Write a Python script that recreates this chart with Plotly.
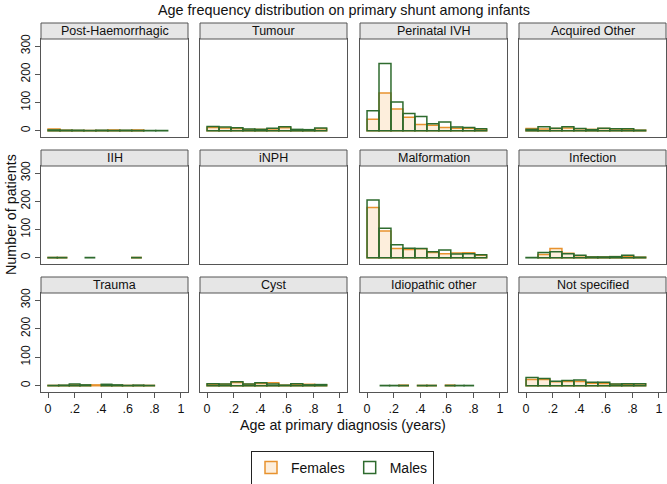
import plotly.graph_objects as go

# ---------------- data ----------------
panel_names = ["Post-Haemorrhagic", "Tumour", "Perinatal IVH", "Acquired Other",
               "IIH", "iNPH", "Malformation", "Infection",
               "Trauma", "Cyst", "Idiopathic other", "Not specified"]

bin_start = [0.0, 0.0, 0.0, 0.0,
             0.0, 0.0, 0.0, 0.0,
             0.0, 0.0, 0.10, 0.0]
bin_width = [0.09, 0.09, 0.09, 0.09,
             0.07, 0.09, 0.09, 0.09,
             0.08, 0.09, 0.07, 0.09]

female_counts = [
    [6, 2, 1, 1, 1, 3, 1, 3, 0, 0],          # Post-Haemorrhagic
    [12, 10, 8, 4, 5, 6, 11, 3, 3, 7],       # Tumour
    [41, 134, 77, 48, 22, 20, 12, 9, 9, 4],  # Perinatal IVH
    [8, 6, 8, 10, 7, 5, 8, 6, 5, 2],         # Acquired Other
    [1, 1, 0, 0, 0, 0, 0, 0, 0, 1],          # IIH
    [0, 0, 0, 0, 0, 0, 0, 0, 0, 0],          # iNPH
    [178, 95, 33, 29, 32, 19, 14, 17, 18, 9],# Malformation
    [0, 12, 33, 16, 7, 3, 3, 4, 5, 2],       # Infection
    [1, 1, 3, 2, 3, 2, 1, 1, 1, 1],          # Trauma
    [5, 5, 11, 5, 8, 10, 2, 5, 5, 3],        # Cyst
    [0, 0, 2, 0, 1, 1, 0, 2, 0, 0],          # Idiopathic other
    [22, 22, 14, 15, 15, 9, 8, 5, 5, 6],     # Not specified
]
male_counts = [
    [3, 2, 2, 1, 2, 1, 2, 1, 1, 1],          # Post-Haemorrhagic
    [15, 13, 11, 6, 5, 9, 14, 5, 4, 10],     # Tumour
    [71, 238, 102, 61, 51, 25, 31, 13, 12, 7],# Perinatal IVH
    [5, 14, 9, 14, 8, 4, 9, 7, 7, 2],        # Acquired Other
    [1, 1, 0, 0, 1, 0, 0, 0, 0, 1],          # IIH
    [0, 0, 0, 0, 0, 0, 0, 0, 0, 0],          # iNPH
    [205, 105, 46, 34, 33, 21, 28, 13, 14, 11],# Malformation
    [1, 19, 21, 14, 9, 3, 3, 4, 9, 2],       # Infection
    [1, 2, 6, 3, 0, 5, 3, 1, 2, 1],          # Trauma
    [7, 6, 14, 6, 10, 6, 2, 7, 3, 4],        # Cyst
    [1, 1, 1, 0, 1, 1, 0, 1, 1, 1],          # Idiopathic other
    [29, 25, 16, 18, 20, 12, 12, 6, 7, 7],   # Not specified
]

x_tick_vals = [0, 0.2, 0.4, 0.6, 0.8, 1]
x_tick_text = ["0", ".2", ".4", ".6", ".8", "1"]
y_tick_vals = [0, 100, 200, 300]
y_tick_text = ["0", "100", "200", "300"]

# ---------------- layout geometry (pixels) ----------------
W, H = 667, 484
col_px = [(41, 188), (200, 347), (360, 507), (519, 666)]
row_plot_px = [(39, 137), (166, 264), (293, 392)]
row_strip_px = [(23, 39), (150, 166), (277, 293)]

def px_x(v):
    return v / W

def px_y(v):
    return 1 - v / H

FEMALE_LINE = "#E8922E"
FEMALE_FILL = "#FDEEDC"
MALE_LINE = "#2E6B2E"
AXIS_COLOR = "#555555"
FONT = "Liberation Sans, Arial, sans-serif"

fig = go.Figure()
layout = dict(
    width=W, height=H,
    margin=dict(l=0, r=0, t=0, b=0, autoexpand=False),
    paper_bgcolor="white", plot_bgcolor="white",
    barmode="overlay",
    font=dict(family=FONT, size=12, color="#111111"),
    showlegend=True,
)
shapes = []
annotations = []

for i, name in enumerate(panel_names):
    r, c = divmod(i, 4)
    idx = i + 1
    xa = "x" if idx == 1 else f"x{idx}"
    ya = "y" if idx == 1 else f"y{idx}"
    xkey = "xaxis" if idx == 1 else f"xaxis{idx}"
    ykey = "yaxis" if idx == 1 else f"yaxis{idx}"

    w = bin_width[i]
    centers = [bin_start[i] + w * (k + 0.5) for k in range(len(male_counts[i]))]
    fvals = [v if v > 0 else None for v in female_counts[i]]
    mvals = [v if v > 0 else None for v in male_counts[i]]

    fig.add_trace(go.Bar(
        x=centers, y=fvals, width=w, name="Females",
        marker=dict(color=FEMALE_FILL, line=dict(color=FEMALE_LINE, width=1.5)),
        xaxis=xa, yaxis=ya, legendgroup="f", showlegend=(i == 0),
        hoverinfo="x+y",
    ))
    fig.add_trace(go.Bar(
        x=centers, y=mvals, width=w, name="Males",
        marker=dict(color="rgba(255,255,255,0)", line=dict(color=MALE_LINE, width=1.5)),
        xaxis=xa, yaxis=ya, legendgroup="m", showlegend=(i == 0),
        hoverinfo="x+y",
    ))

    x0, x1 = col_px[c]
    yt, yb = row_plot_px[r]
    bottom_row = (r == 2)
    left_col = (c == 0)

    layout[xkey] = dict(
        domain=[px_x(x0), px_x(x1)], anchor=ya,
        range=[-0.053, 1.053], tickvals=x_tick_vals, ticktext=x_tick_text,
        showticklabels=bottom_row, ticks="outside" if bottom_row else "",
        ticklen=5, tickwidth=1, tickcolor=AXIS_COLOR,
        tickfont=dict(size=12.5, family=FONT, color="#111"),
        ticklabeloverflow="allow",
        showline=True, mirror=True, linecolor=AXIS_COLOR, linewidth=1,
        showgrid=False, zeroline=False, fixedrange=True,
    )
    layout[ykey] = dict(
        domain=[px_y(yb), px_y(yt)], anchor=xa,
        range=[-22, 325], tickvals=y_tick_vals, ticktext=y_tick_text,
        showticklabels=left_col, ticks="outside" if left_col else "",
        ticklen=5, tickwidth=1, tickcolor=AXIS_COLOR, tickangle=-90,
        tickfont=dict(size=12, family=FONT, color="#111"),
        showline=True, mirror=True, linecolor=AXIS_COLOR, linewidth=1,
        showgrid=False, zeroline=False, fixedrange=True,
    )

    st, sb = row_strip_px[r]
    shapes.append(dict(
        type="rect", xref="paper", yref="paper",
        x0=px_x(x0), x1=px_x(x1), y0=px_y(sb), y1=px_y(st),
        fillcolor="#E6E6E6", line=dict(color=AXIS_COLOR, width=1), layer="above",
    ))
    annotations.append(dict(
        text=name, xref="paper", yref="paper",
        x=px_x((x0 + x1) / 2), y=px_y((st + sb) / 2),
        xanchor="center", yanchor="middle", showarrow=False,
        font=dict(size=12.5, family=FONT, color="#111"),
    ))

annotations.append(dict(
    text="Age frequency distribution on primary shunt among infants",
    xref="paper", yref="paper", x=px_x(344), y=px_y(10),
    xanchor="center", yanchor="middle", showarrow=False,
    font=dict(size=14.4, family=FONT, color="#111"),
))
annotations.append(dict(
    text="Age at primary diagnosis (years)",
    xref="paper", yref="paper", x=px_x(343), y=px_y(425),
    xanchor="center", yanchor="middle", showarrow=False,
    font=dict(size=14.3, family=FONT, color="#111"),
))
annotations.append(dict(
    text="Number of patients",
    xref="paper", yref="paper", x=px_x(11), y=px_y(215),
    xanchor="center", yanchor="middle", showarrow=False, textangle=-90,
    font=dict(size=14.3, family=FONT, color="#111"),
))

layout["shapes"] = shapes
layout["annotations"] = annotations
layout["legend"] = dict(
    orientation="h", x=px_x(342.5), xanchor="center",
    y=px_y(451), yanchor="top",
    bordercolor="#222", borderwidth=1, bgcolor="white",
    font=dict(size=14, family=FONT, color="#111"),
    itemwidth=30, tracegroupgap=0,
)
fig.update_layout(**layout)
fig.write_html(
    "out.html",
    config={"displayModeBar": False},
    post_script="document.body.style.margin='0px';document.body.style.overflow='hidden';",
)
